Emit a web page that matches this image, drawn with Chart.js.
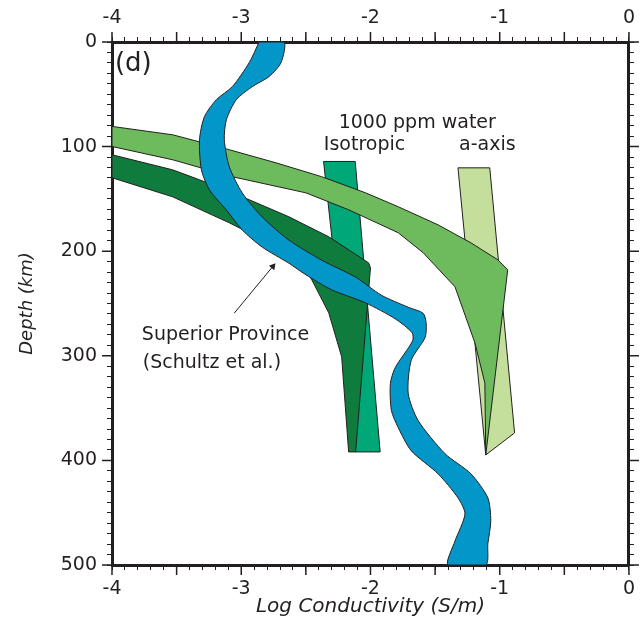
<!DOCTYPE html>
<html>
<head>
<meta charset="utf-8">
<script src="https://cdn.jsdelivr.net/npm/chart.js@4.4.0/dist/chart.umd.min.js"></script>
<style>
  html, body { margin: 0; padding: 0; background: #fff; }
</style>
</head>
<body>
<canvas id="profileChart" width="643" height="631"></canvas>
<script>
// axis ranges
const logCRange = [-4, 0];
const depthRange = [0, 500];

// Superior Province band (Schultz et al.): down the left edge, back up the right edge
const superiorLogC = [
  -2.862, -2.938, -3.069, -3.192, -3.285, -3.323, -3.308, -3.246, -3.115, -2.992,
  -2.838, -2.631, -2.500, -2.300, -2.038, -1.808, -1.677, -1.675, -1.808, -1.846,
  -1.838, -1.785, -1.685, -1.477, -1.323, -1.269, -1.346, -1.400,
  -1.108, -1.092, -1.069, -1.092, -1.223, -1.423, -1.631, -1.708, -1.685, -1.577,
  -1.569, -1.592, -1.708, -1.915, -2.115, -2.377, -2.631, -2.838, -2.992, -3.092,
  -3.131, -3.115, -3.038, -2.915, -2.785, -2.692, -2.669, -2.862
];
const superiorDepth = [
  0, 19.7, 42.7, 55.1, 71.4, 93.5, 122.2, 141.4, 160.6, 179.8,
  196.1, 211.5, 222.5, 236.9, 249.4, 264.7, 278.1, 286.0, 311.1, 326.5,
  352.4, 368.7, 390.7, 412.8, 435.8, 451.2, 477.1, 500,
  500, 479.9, 457.8, 435.8, 412.8, 393.6, 361.9, 336.0, 304.4, 282.4,
  268.9, 259.4, 253.6, 242.1, 224.8, 208.6, 189.4, 167.3, 144.3, 119.4,
  93.5, 74.3, 55.1, 42.7, 33.1, 19.7, 0, 0
];

// 1000 ppm water, a-axis (light green band)
const aAxisLogC = [
  -4, -3.531, -3.092, -2.731, -2.377, -2.038, -1.785, -1.477, -1.223, -1.015, -0.938,
  -1.108, -1.115, -1.192, -1.346, -1.592, -1.785, -2.169, -2.500, -3.069, -3.531, -4, -4
];
const aAxisDepth = [
  80.7, 88.7, 103.0, 115.5, 128.8, 144.2, 157.5, 174.8, 192.0, 208.2, 217.8,
  394.8, 325.9, 287.6, 234.1, 201.5, 182.4, 160.4, 144.2, 128.8, 112.6, 99.9, 80.7
];

// isotropic (dark green band)
const isoLogC = [
  -4, -3.531, -3.323, -2.938, -2.631, -2.323, -2.015, -2.0, -2.115, -2.169,
  -2.223, -2.323, -2.454, -2.500, -2.785, -3.092, -3.531, -4, -4
];
const isoDepth = [
  107.8, 122.2, 131.7, 150.8, 167.1, 186.2, 211.1, 215.9, 391.9, 391.9,
  301.0, 258.9, 227.4, 217.8, 192.0, 172.9, 148.0, 129.8, 107.8
];

// isotropic bar (teal)
const isoBarLogC = [-2.363, -2.118, -1.925, -2.118, -2.363];
const isoBarDepth = [114.2, 114.2, 391.9, 391.9, 114.2];

// a-axis bar (pale green)
const aBarLogC = [-1.323, -1.077, -0.885, -1.108, -1.323];
const aBarDepth = [120.3, 120.3, 373.7, 394.8, 120.3];

// arrow pointing at the Superior Province band
const arrowLogC = [-3.054, -2.755];
const arrowDepth = [259.2, 214.5];

const ink = '#231f20';
const font = 'DejaVu Sans';

function pts(xs, ys) {
  return xs.map((x, i) => ({ x: x, y: ys[i] }));
}

function shape(label, xs, ys, color, extra) {
  return Object.assign({
    label: label,
    data: pts(xs, ys),
    showLine: true,
    fill: 'shape',
    backgroundColor: color,
    borderColor: ink,
    borderWidth: 1,
    pointRadius: 0,
    tension: 0
  }, extra || {});
}

const notes = [
  { text: '(d)', x: -3.977, y: 21.7, size: 26, align: 'left' },
  { text: '1000 ppm water', x: -1.638, y: 77.2, size: 19, align: 'center' },
  { text: 'Isotropic', x: -2.046, y: 98.2, size: 19, align: 'center' },
  { text: 'a-axis', x: -1.096, y: 98.2, size: 19, align: 'center' },
  { text: 'Superior Province', x: -3.769, y: 280, size: 19, align: 'left' },
  { text: '(Schultz et al.)', x: -3.762, y: 306.8, size: 19, align: 'left' }
];

const textNotes = {
  id: 'textNotes',
  afterDatasetsDraw(chart) {
    const { ctx, scales } = chart;
    ctx.save();
    ctx.fillStyle = ink;
    ctx.textBaseline = 'middle';
    notes.forEach(n => {
      ctx.font = n.size + 'px "' + font + '"';
      ctx.textAlign = n.align;
      ctx.fillText(n.text, scales.x.getPixelForValue(n.x), scales.y.getPixelForValue(n.y));
    });
    ctx.restore();
  }
};

// longer ticks at 0.5 log units and every 100 km
const majorTicks = {
  id: 'majorTicks',
  afterDraw(chart) {
    const { ctx, chartArea: a, scales } = chart;
    ctx.save();
    ctx.strokeStyle = ink;
    ctx.lineWidth = 1.5;
    ctx.beginPath();
    for (let v = logCRange[0]; v <= logCRange[1] + 1e-6; v += 0.5) {
      const px = scales.x.getPixelForValue(v);
      ctx.moveTo(px, a.bottom); ctx.lineTo(px, a.bottom + 10);
      ctx.moveTo(px, a.top); ctx.lineTo(px, a.top - 10);
    }
    for (let d = depthRange[0]; d <= depthRange[1]; d += 100) {
      const py = scales.y.getPixelForValue(d);
      ctx.moveTo(a.left, py); ctx.lineTo(a.left - 10, py);
      ctx.moveTo(a.right, py); ctx.lineTo(a.right + 10, py);
    }
    ctx.stroke();
    ctx.restore();
  }
};

const isWhole = v => Math.abs(v - Math.round(v)) < 1e-6;

function xScale(position, size, withTitle) {
  return {
    type: 'linear',
    position: position,
    min: logCRange[0],
    max: logCRange[1],
    afterFit: s => { s.height = size; },
    border: { display: true, color: ink, width: 3 },
    grid: { drawOnChartArea: false, drawTicks: true, tickLength: 5, tickColor: ink, tickWidth: 1 },
    ticks: {
      stepSize: 0.1,
      autoSkip: false,
      maxRotation: 0,
      padding: 8,
      color: ink,
      font: { family: font, size: 19 },
      callback: v => isWhole(v) ? String(Math.round(v)) : ''
    },
    title: {
      display: withTitle,
      text: 'Log Conductivity (S/m)',
      color: ink,
      font: { family: font, size: 20, style: 'italic' },
      padding: { top: 0, bottom: 12 }
    }
  };
}

function yScale(position, size, withLabels) {
  return {
    type: 'linear',
    position: position,
    reverse: true,
    min: depthRange[0],
    max: depthRange[1],
    afterFit: s => { s.width = size; },
    border: { display: true, color: ink, width: 3 },
    grid: { drawOnChartArea: false, drawTicks: true, tickLength: 5, tickColor: ink, tickWidth: 1 },
    ticks: {
      stepSize: 10,
      autoSkip: false,
      padding: 10,
      color: ink,
      font: { family: font, size: 19 },
      callback: v => (withLabels && v % 100 === 0) ? String(v) : ''
    },
    title: {
      display: withLabels,
      text: 'Depth (km)',
      color: ink,
      font: { family: font, size: 18, style: 'italic' },
      padding: { top: 17, bottom: 0 }
    }
  };
}

new Chart(document.getElementById('profileChart'), {
  type: 'scatter',
  data: {
    datasets: [
      shape('Superior Province', superiorLogC, superiorDepth, '#0397c9', { tension: 0.25 }),
      {
        label: 'arrow',
        data: pts(arrowLogC, arrowDepth),
        showLine: true,
        borderColor: ink,
        borderWidth: 1,
        backgroundColor: ink,
        pointStyle: 'triangle',
        pointRadius: [0, 4],
        pointRotation: 40,
        pointBorderWidth: 0
      },
      shape('a-axis band', aAxisLogC, aAxisDepth, '#6dbb5d'),
      shape('isotropic band', isoLogC, isoDepth, '#0f7b3d'),
      shape('a-axis bar', aBarLogC, aBarDepth, '#c3df9b'),
      shape('isotropic bar', isoBarLogC, isoBarDepth, '#00a878')
    ]
  },
  options: {
    responsive: false,
    animation: false,
    events: [],
    layout: { padding: 0 },
    plugins: {
      legend: { display: false },
      tooltip: { enabled: false }
    },
    scales: {
      x2: xScale('top', 42, false),
      x: xScale('bottom', 66, true),
      y: yScale('left', 112, true),
      y2: yScale('right', 11, false)
    }
  },
  plugins: [textNotes, majorTicks]
});
</script>
</body>
</html>
